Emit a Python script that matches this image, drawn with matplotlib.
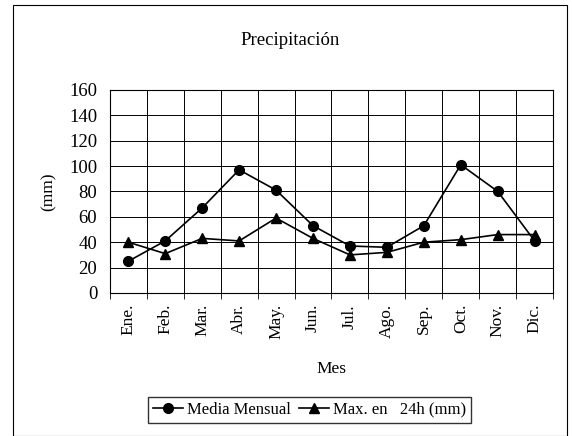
import matplotlib.pyplot as plt
import matplotlib.patches as mpatches
import numpy as np

# Precipitation chart data
meses = ["Ene.", "Feb.", "Mar.", "Abr.", "May.", "Jun.",
         "Jul.", "Ago.", "Sep.", "Oct.", "Nov.", "Dic."]
media_mensual = [25, 41, 67, 97, 81, 53, 37, 36, 53, 101, 80, 41]
max_24h = [40, 31, 43, 41, 59, 43, 30, 32, 40, 42, 46, 46]
y_ticks = [0, 20, 40, 60, 80, 100, 120, 140, 160]

plt.rcParams["font.family"] = ["Liberation Serif", "DejaVu Serif"]

fig = plt.figure(figsize=(5.72, 4.36), dpi=100)
ax = fig.add_axes([0.192, 0.328, 0.775, 0.466])

x = np.arange(len(meses))
ax.plot(x, media_mensual, color="black", lw=1.2, marker="o", ms=7,
        label="Media Mensual")
ax.plot(x, max_24h, color="black", lw=1.2, marker="^", ms=7,
        label="Max. en   24h (mm)")

ax.set_xlim(-0.5, len(meses) - 0.5)
ax.set_ylim(0, 160)
ax.set_yticks(y_ticks)
ax.set_xticks(x)
ax.set_xticklabels(meses, rotation=90, fontsize=12.5)
ax.set_xticks(np.arange(-0.5, len(meses)), minor=True)
ax.tick_params(axis="x", which="major", length=0, pad=8)
ax.tick_params(axis="x", which="minor", length=4, direction="out", width=0.6)
ax.tick_params(axis="y", length=0, labelsize=13.5, pad=9)
ax.grid(True, axis="y", color="black", lw=0.7)
ax.grid(True, axis="x", which="minor", color="black", lw=0.7)
for s in ax.spines.values():
    s.set_linewidth(0.8)

ax.set_ylabel("(mm)", fontsize=12.5, labelpad=9)
ax.set_xlabel("Mes", fontsize=12.5, labelpad=16)
fig.text(0.507, 0.906, "Precipitación", ha="center", va="center", fontsize=13.5)

fig.legend(loc="center", bbox_to_anchor=(0.541, 0.06), ncol=2, fontsize=12,
           frameon=True, fancybox=False, edgecolor="black", handlelength=1.8,
           handletextpad=0.25, columnspacing=0.5, borderpad=0.3,
           borderaxespad=0)

# outer chart border
border = mpatches.Rectangle((13 / 572, 0.0), (567 - 13) / 572, 1 - 5 / 436,
                            transform=fig.transFigure, fill=False,
                            edgecolor="black", lw=0.8)
fig.patches.append(border)

fig.savefig("out.png", dpi=100)
